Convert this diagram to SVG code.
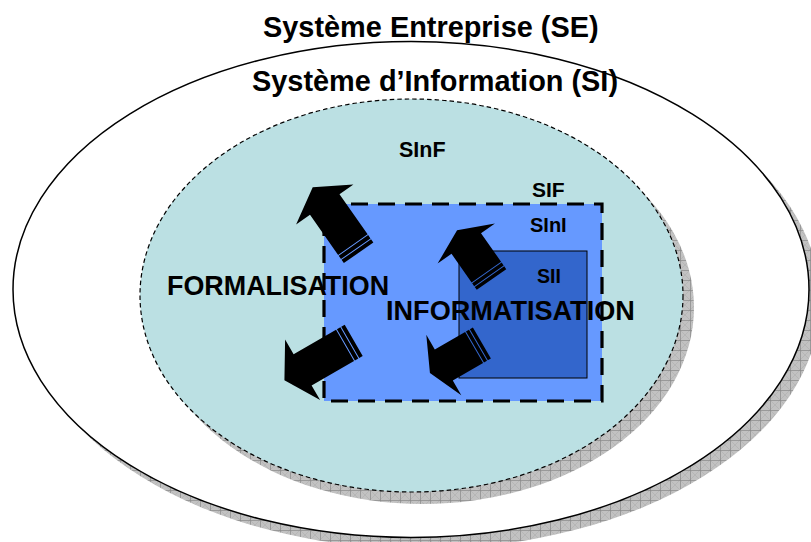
<svg xmlns="http://www.w3.org/2000/svg" width="811" height="542" viewBox="0 0 811 542">
<style>
  .t{font-family:"Liberation Sans",Arial,sans-serif;font-weight:bold;fill:#000}
  .shadow{fill:url(#hatch)}
  .arrow{fill:#000}
</style>
<defs>
  <pattern id="hatch" patternUnits="userSpaceOnUse" width="10" height="10">
    <rect width="10" height="10" fill="#C2C2C2"/>
    <path d="M0,0L10,10M10,0L0,10" stroke="#ABABAB" stroke-width="0.5"/>
    <path d="M0,0.4H10M0.4,0V10" stroke="#888888" stroke-width="0.8"/>
  </pattern>
  <g id="bigArrow">
    <path d="M0,-18H4V18H0Z M5,-18H9V18H5Z M10,-18H59V-35L80,0L59,35V18H10Z"/>
  </g>
  <g id="smallArrow">
    <path d="M0,-18H3.5V18H0Z M4.5,-18H8V18H4.5Z M9,-18H44V-35L60,0L44,35V18H9Z"/>
  </g>
</defs>
<rect width="811" height="542" fill="#FFFFFF"/>

<g id="se">
  <ellipse class="shadow" cx="422" cy="301" rx="398" ry="248"/>
  <ellipse cx="411" cy="289.5" rx="398" ry="248" fill="#FFFFFF" stroke="#000" stroke-width="1.5"/>
  <text class="t" x="263" y="36.5" font-size="28.9">Système Entreprise (SE)</text>
</g>

<g id="si">
  <ellipse class="shadow" cx="422.5" cy="307.5" rx="271.5" ry="196.5"/>
  <ellipse cx="411.5" cy="295.5" rx="271.5" ry="196.5" fill="#BBE0E3" stroke="#000" stroke-width="1.2" stroke-dasharray="4.5 3"/>
  <text class="t" x="252" y="91" font-size="28.9">Système d’Information (SI)</text>
  <text class="t" x="399" y="157" font-size="21.5">SInF</text>
</g>

<g id="sif">
  <rect x="324" y="204" width="278" height="197" fill="#6699FF" stroke="#000" stroke-width="3.2" stroke-dasharray="17 10"/>
  <text class="t" x="532" y="197" font-size="21">SIF</text>
  <text class="t" x="530" y="232" font-size="20">SInI</text>
</g>

<g id="sii">
  <rect x="459" y="251" width="128" height="127" fill="#3366CC" stroke="#000" stroke-width="1"/>
  <text class="t" x="537" y="283" font-size="19.5">SII</text>
</g>

<g id="connectors" class="arrow">
  <use href="#bigArrow" transform="translate(358.6,252.8) rotate(-125)"/>
  <use href="#bigArrow" transform="translate(353.7,340.3) rotate(150)"/>
  <use href="#smallArrow" transform="translate(491.5,279.5) rotate(-125)"/>
  <use href="#smallArrow" transform="translate(481.9,343) rotate(150)"/>
</g>

<g id="labels">
  <text class="t" x="167" y="295" font-size="26.9">FORMALISATION</text>
  <text class="t" x="386" y="320" font-size="27.1">INFORMATISATION</text>
</g>
</svg>
